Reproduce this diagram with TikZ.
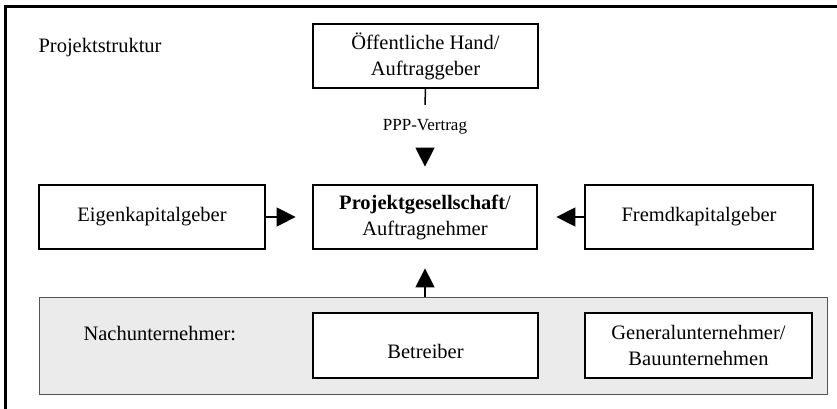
\documentclass[tikz,border=0pt]{standalone}
\usepackage{fontspec}
\setmainfont{Liberation Serif}
\usetikzlibrary{arrows.meta}
\definecolor{panelfill}{RGB}{235,235,235}
\definecolor{panelline}{RGB}{85,85,85}
\begin{document}
\begin{tikzpicture}[x=1pt,y=-1pt,
  txt/.style={font=\fontsize{20.5}{26}\selectfont, align=center},
  smalltxt/.style={font=\fontsize{17}{20}\selectfont},
  box/.style={txt, draw=black, fill=white, inner sep=0pt, line width=1.6pt,
              minimum width=225pt, minimum height=64pt},
  arr/.style={line width=1.5pt, -{Triangle[length=19pt,width=19pt]}},
  conn/.style={line width=1.5pt}
]
\useasboundingbox (0,0) rectangle (837,409);
% outer frame (only top and left edges are visible)
\draw[line width=2.4pt] (5.5,409) -- (5.5,6.5) -- (837,6.5);

\node[txt, anchor=base west] (title) at (35,53) {Projektstruktur};

% grey panel of subcontractors
\node[draw=panelline, fill=panelfill, line width=1pt, minimum width=788pt,
      minimum height=97pt, inner sep=0pt] (panel) at (433,345.5) {};
\node[txt, anchor=base west] (nu) at (80,340) {Nachunternehmer:};

\node[box, line width=2pt] (oh) at (425.5,56) {Öffentliche Hand/\\Auftraggeber};
\node[box, line width=2.8pt, minimum width=224pt] (pg) at (425,217)
  {\textbf{Projektgesellschaft}/\\Auftragnehmer};
\node[box, minimum width=226pt] (ek) at (152,217) {Eigenkapitalgeber};
\node[box, minimum width=228pt] (fk) at (699,217) {Fremdkapitalgeber};
\node[box, line width=2pt, minimum height=65pt] (bt) at (425.5,345.5)
  {\rule{0pt}{26pt}Betreiber};
\node[box, line width=2pt, minimum width=227pt, minimum height=65pt] (gu) at (698.5,345.5)
  {Generalunternehmer/\\Bauunternehmen};

% connectors
\node[smalltxt, inner sep=0pt, minimum height=43pt] (ppp) at (425,126.5) {PPP-Vertrag};
\draw[conn] (oh.south) -- (ppp.north);
\draw[arr, shorten >=17pt] (ppp.south) -- (pg.north);
\draw[arr, shorten >=16pt] (ek.east) -- (pg.west);
\draw[arr, shorten >=18pt] (fk.west) -- (pg.east);
\draw[arr, shorten >=18pt] (pg |- panel.north) -- (pg.south);
\end{tikzpicture}
\end{document}
